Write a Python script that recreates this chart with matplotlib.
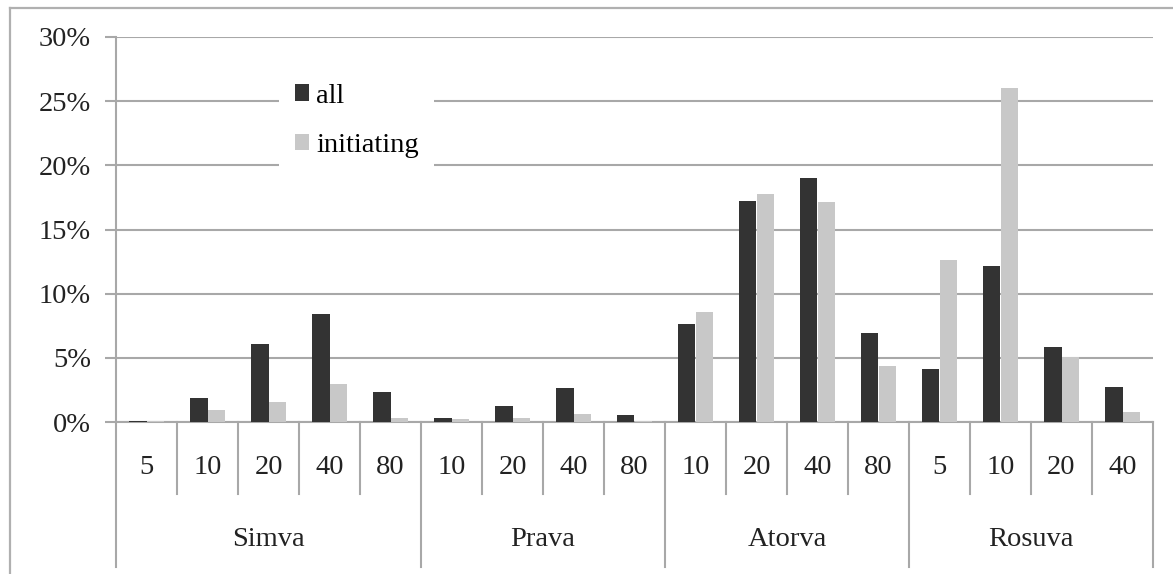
import matplotlib
matplotlib.use("Agg")
import matplotlib.pyplot as plt
from matplotlib.ticker import FuncFormatter

groups = ["Simva", "Prava", "Atorva", "Rosuva"]
doses = [["5", "10", "20", "40", "80"],
         ["10", "20", "40", "80"],
         ["10", "20", "40", "80"],
         ["5", "10", "20", "40"]]
all_pct = [0.1, 1.9, 6.1, 8.4, 2.3,
           0.3, 1.25, 2.65, 0.55,
           7.65, 17.2, 19.05, 6.9,
           4.15, 12.15, 5.85, 2.7]
initiating_pct = [0.05, 0.9, 1.55, 3.0, 0.3,
                  0.2, 0.3, 0.6, 0.05,
                  8.55, 17.8, 17.15, 4.35,
                  12.6, 26.0, 5.05, 0.75]
yticks = [0, 5, 10, 15, 20, 25, 30]

W, H = 1173, 574
fig = plt.figure(figsize=(W / 100, H / 100), dpi=100)
plt.rcParams['font.family'] = ['Liberation Serif', 'DejaVu Serif']
FS = 20.5
GRID = "#a8a8a8"
TXT = "#222222"

x0, x1, ytop, ybot = 116, 1153, 37, 422
ax = fig.add_axes([x0 / W, 1 - ybot / H, (x1 - x0) / W, (ybot - ytop) / H])

n = len(all_pct)
xs = [i + 0.5 for i in range(n)]
bw = 0.28
b1 = ax.bar([x - bw / 2 for x in xs], all_pct, width=bw, color="#333333", label="all", zorder=3)
b2 = ax.bar([x + bw / 2 for x in xs], initiating_pct, width=bw, color="#c8c8c8", label="initiating", zorder=3)

ax.set_xlim(0, n)
ax.set_ylim(0, 30)
ax.set_yticks(yticks)
ax.yaxis.set_major_formatter(FuncFormatter(lambda v, p: f"{int(v)}%"))
ax.grid(axis="y", color=GRID, linewidth=1.5, zorder=0)
ax.set_axisbelow(True)
for s in ["top", "right"]:
    ax.spines[s].set_visible(False)
for s in ["left", "bottom"]:
    ax.spines[s].set_color(GRID)
    ax.spines[s].set_linewidth(1.5)
ax.tick_params(axis="y", length=8, width=1.5, color=GRID, pad=10, labelsize=FS, labelcolor=TXT)
ax.set_xticks([])

trans = ax.get_xaxis_transform()
px = 1.0 / (ybot - ytop)
y_cat = -(494 - ybot) * px
y_grp = -(567 - ybot) * px
y_dose = -(467 - ybot) * px
y_glab = -(540 - ybot) * px

boundaries = [0]
k = 0
for g, dl in zip(groups, doses):
    start = k
    for d in dl:
        ax.text(k + 0.5, y_dose, d, transform=trans, ha="center", va="center", fontsize=FS, color=TXT)
        k += 1
    boundaries.append(k)
    ax.text((start + k) / 2, y_glab, g, transform=trans, ha="center", va="center", fontsize=FS, color=TXT)
for i in range(n + 1):
    yend = y_grp if i in boundaries else y_cat
    ax.plot([i, i], [0, yend], transform=trans, color=GRID, linewidth=1.5, clip_on=False)

leg = ax.legend(handles=[b1, b2], loc="upper left",
                bbox_to_anchor=((279 - x0) / (x1 - x0), 1 - (68 - ytop) / (ybot - ytop)),
                frameon=True, facecolor="white", edgecolor="none", framealpha=1,
                fontsize=FS, handlelength=0.5, handleheight=0.5, handletextpad=0.25,
                labelspacing=0.85, borderpad=0.55, borderaxespad=0, fancybox=False)
leg.get_frame().set_boxstyle("square", pad=0)

# outer chart border
fig.add_artist(plt.Line2D([10 / W, 10 / W], [0, 1 - 8 / H], color="#b0b0b0", linewidth=1.6))
fig.add_artist(plt.Line2D([10 / W, 1], [1 - 8 / H, 1 - 8 / H], color="#b0b0b0", linewidth=1.6))

fig.savefig("out.png", dpi=100)
